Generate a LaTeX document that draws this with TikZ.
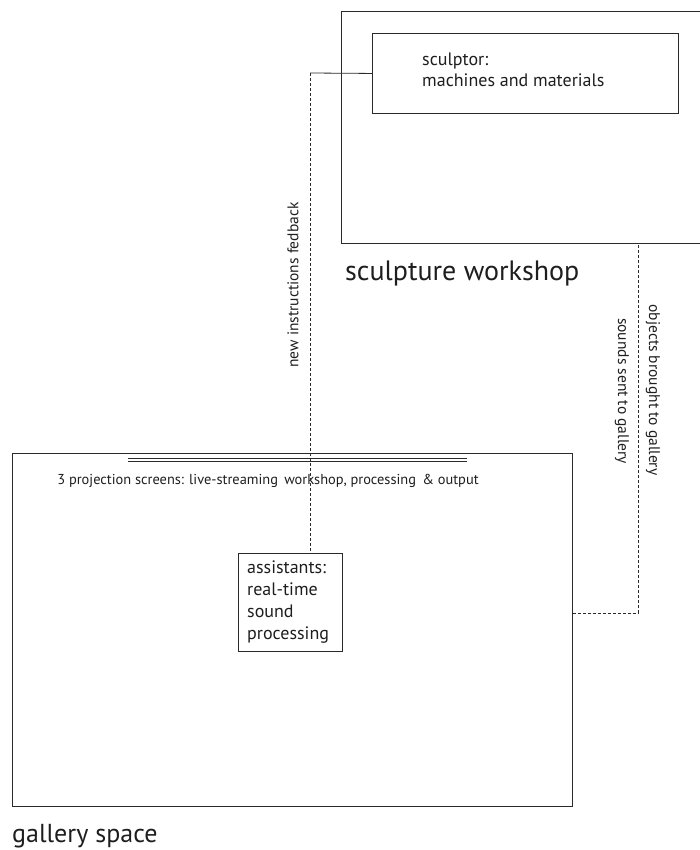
\documentclass[tikz,border=0pt]{standalone}
\usepackage{fontspec}
\setmainfont{PT Sans}
\begin{document}
\begin{tikzpicture}[x=1pt,y=-1pt]
    \definecolor{lineColour}{HTML}{2A2A2A}
    \definecolor{textColour}{HTML}{1E1E1E}

    \tikzset{
        box/.style={draw=lineColour, line width=0.9pt, rectangle, inner sep=0pt},
        boxtext/.style={text=textColour, align=left, inner sep=0pt, anchor=base west},
        note/.style={text=textColour, font=\fontsize{15.5}{18}\selectfont, inner sep=0pt},
        title/.style={text=textColour, inner sep=0pt, anchor=base west},
        link/.style={draw=lineColour, line width=0.8pt, dash pattern=on 3pt off 2pt}
    }

    % Page frame
    \useasboundingbox (0,0) rectangle (700,850);
    \clip (0,0) rectangle (700,850);

    % Sculpture workshop (cut at right edge)
    \node[box, minimum width=370, minimum height=232, anchor=north west] (workshop) at (341,11) {};
    \node[box, minimum width=306, minimum height=80, anchor=north west] (sculptor) at (372,33) {};
    \node[boxtext, font=\fontsize{18}{21}\selectfont] (sculptortext) at (422,87) {sculptor:\\machines and materials};
    \node[title, font=\fontsize{28}{32}\selectfont] (workshoplabel) at (345,280) {sculpture workshop};

    % Gallery space
    \node[box, minimum width=560, minimum height=353, anchor=north west] (gallery) at (12,453) {};
    \node[title, font=\fontsize{26}{30}\selectfont] (gallerylabel) at (12,842) {gallery space};

    % Projection screens
    \coordinate (screenA) at (128,460);
    \coordinate (screenB) at (467,460);
    \draw[lineColour, line width=0.7pt, double, double distance=2pt] (screenA) -- (screenB);
    \node[note, font=\fontsize{14.4}{17}\selectfont] (screens) at (268,481) {3 projection screens: live-streaming\, workshop, processing\, \& output};

    % Assistants
    \node[box, minimum width=104, minimum height=98, anchor=north west] (assist) at (238,553) {};
    \node[boxtext, font=\fontsize{18}{21.7}\selectfont] (assisttext) at (247,639) {assistants:\\real-time\\sound\\processing};

    % Feedback connector
    \coordinate (fbk) at (310,73);
    \draw[lineColour, line width=0.8pt] (sculptor.west) -- (fbk);
    \draw[link] (fbk) -- (fbk |- assist.north);
    \node[note] [rotate=90] (fbklabel) at (293,285) {new instructions fedback};

    % Objects and sounds connector
    \coordinate (obj) at (638,613);
    \draw[link] (gallery.east |- obj) -- (obj) -- (obj |- workshop.south);
    \node[note, rotate=-90] (objlabel) at (653,390) {objects brought to gallery};
    \node[note, rotate=-90] (soundlabel) at (622,391) {sounds sent to gallery};

\end{tikzpicture}
\end{document}
